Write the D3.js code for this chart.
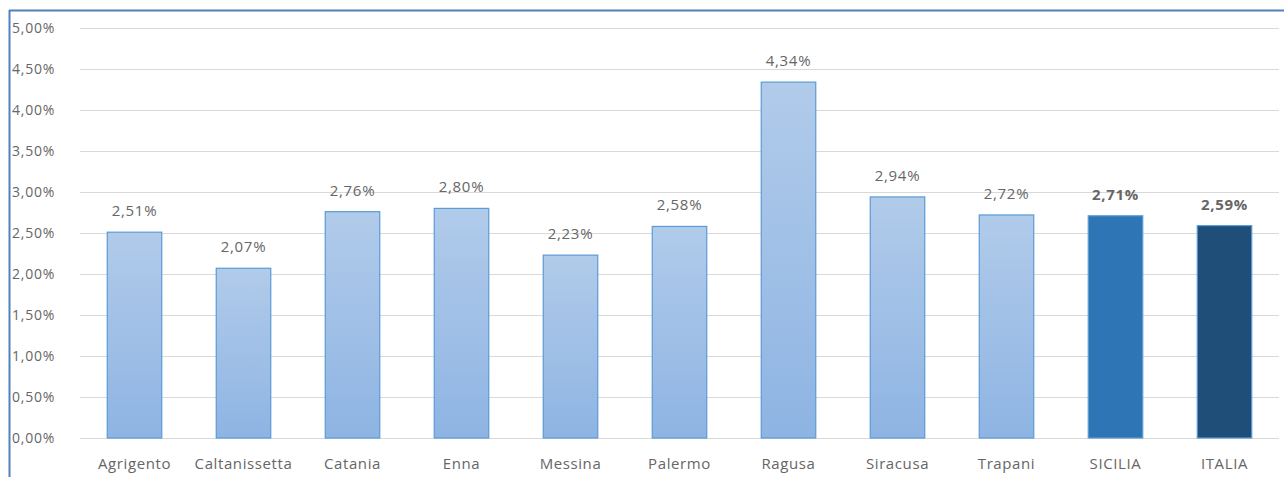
<!DOCTYPE html>
<html><head><meta charset="utf-8">
<script src="https://cdn.jsdelivr.net/npm/d3@7"></script>
<style>body{margin:0;background:#fff}svg{display:block}text{font-family:"Open Sans",sans-serif}</style>
</head><body><svg id="c" width="1284" height="477"></svg>
<script>
const categories=["Agrigento","Caltanissetta","Catania","Enna","Messina","Palermo","Ragusa","Siracusa","Trapani","SICILIA","ITALIA"];
const values=[2.51,2.07,2.76,2.80,2.23,2.58,4.34,2.94,2.72,2.71,2.59];
const yTicks=[0,0.5,1,1.5,2,2.5,3,3.5,4,4.5,5];
const fmt=v=>d3.format(".2f")(v).replace(".",",")+"%";
const svg=d3.select("#c");
const x=d3.scaleBand().domain(categories).range([80,1279]).paddingInner(0.5).paddingOuter(0.25);
const y=d3.scaleLinear().domain([0,5]).range([438,28]);
const defs=svg.append("defs");
const g=defs.append("linearGradient").attr("id","grad").attr("x1",0).attr("y1",0).attr("x2",0).attr("y2",1);
g.append("stop").attr("offset","0%").attr("stop-color","#b1cbea");
g.append("stop").attr("offset","100%").attr("stop-color","#8eb4e3");
// frame
svg.append("line").attr("x1",9.5).attr("x2",9.5).attr("y1",10).attr("y2",477).attr("stroke","#4f81bd").attr("stroke-width",2);
svg.append("line").attr("x1",9).attr("x2",1284).attr("y1",10.5).attr("y2",10.5).attr("stroke","#4f81bd").attr("stroke-width",2);
// grid
svg.append("g").selectAll("line").data(yTicks).join("line")
 .attr("x1",80).attr("x2",1279).attr("y1",d=>Math.round(y(d))+0.5).attr("y2",d=>Math.round(y(d))+0.5)
 .attr("stroke","#d9d9d9").attr("stroke-width",1);
svg.append("g").selectAll("text").data(yTicks).join("text")
 .attr("x",12).attr("y",d=>y(d)+5).attr("text-anchor","start").attr("font-size",14)
 .attr("letter-spacing",0.8).attr("fill","#666").text(fmt);
const fill=(d,i)=>categories[i]==="SICILIA"?"#2e75b6":categories[i]==="ITALIA"?"#1f4e79":"url(#grad)";
svg.append("g").selectAll("rect").data(values).join("rect")
 .attr("x",(d,i)=>x(categories[i])).attr("width",x.bandwidth())
 .attr("y",d=>y(d)).attr("height",d=>y(0)-y(d))
 .attr("fill",fill).attr("stroke","#5b9bd5").attr("stroke-width",1.2);
svg.append("g").selectAll("text").data(values).join("text")
 .attr("x",(d,i)=>x(categories[i])+x.bandwidth()/2).attr("y",d=>y(d)-16)
 .attr("text-anchor","middle").attr("font-size",15).attr("letter-spacing",0.7).attr("fill","#666")
 .attr("font-weight",(d,i)=>i>=9?"bold":"normal").text(fmt);
svg.append("g").selectAll("text").data(categories).join("text")
 .attr("x",d=>x(d)+x.bandwidth()/2).attr("y",469).attr("text-anchor","middle")
 .attr("font-size",15).attr("letter-spacing",0.6).attr("fill","#666").text(d=>d);
</script></body></html>
